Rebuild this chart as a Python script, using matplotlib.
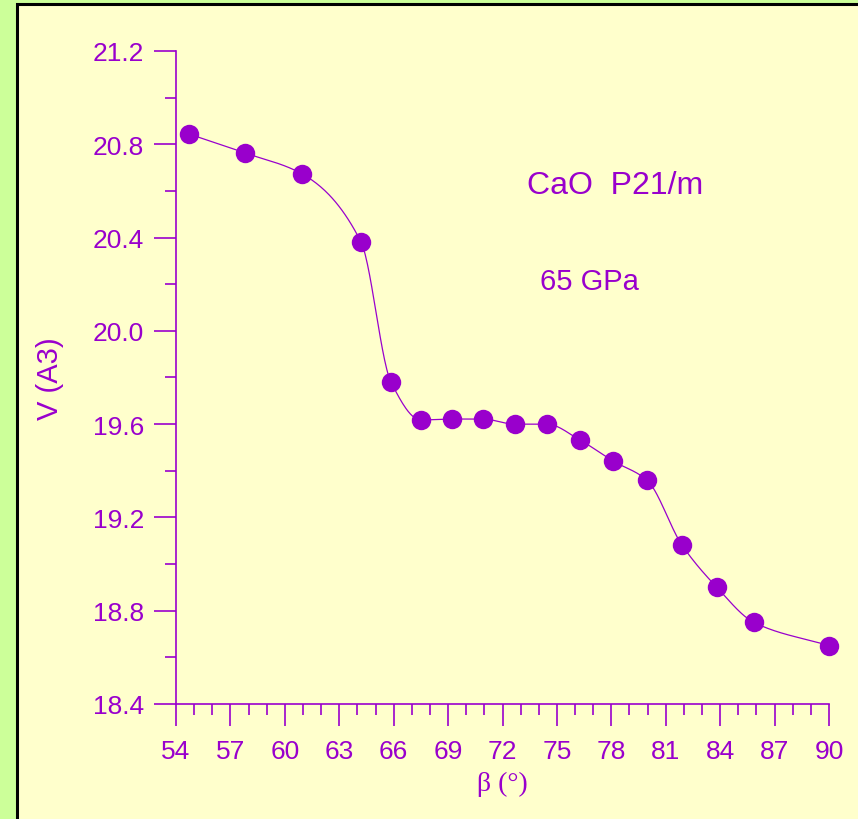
import numpy as np
import matplotlib.pyplot as plt
from matplotlib.patches import Rectangle
from matplotlib.ticker import MultipleLocator, FormatStrFormatter

# Cell volume vs monoclinic angle, CaO P21/m at 65 GPa
beta = [54.72, 57.80, 60.95, 64.20, 65.85, 67.50, 69.20, 70.90, 72.70,
        74.45, 76.27, 78.09, 79.96, 81.89, 83.82, 85.86, 90.00]
volume = [20.844, 20.763, 20.673, 20.381, 19.781, 19.618, 19.622, 19.622,
          19.600, 19.600, 19.532, 19.442, 19.360, 19.082, 18.900, 18.750, 18.650]

purple = '#9900cc'


def pchip(x, y, xs):
    # monotone cubic (Fritsch-Carlson) for the smooth connecting line
    x = np.asarray(x, float)
    y = np.asarray(y, float)
    h = np.diff(x)
    d = np.diff(y) / h
    m = np.zeros_like(y)
    for k in range(1, len(x) - 1):
        if d[k - 1] * d[k] > 0:
            w1 = 2 * h[k] + h[k - 1]
            w2 = h[k] + 2 * h[k - 1]
            m[k] = (w1 + w2) / (w1 / d[k - 1] + w2 / d[k])
    m[0] = d[0]
    m[-1] = d[-1]
    idx = np.clip(np.searchsorted(x, xs) - 1, 0, len(x) - 2)
    t = (xs - x[idx]) / h[idx]
    h00 = 2 * t**3 - 3 * t**2 + 1
    h10 = t**3 - 2 * t**2 + t
    h01 = -2 * t**3 + 3 * t**2
    h11 = t**3 - t**2
    return (h00 * y[idx] + h10 * h[idx] * m[idx]
            + h01 * y[idx + 1] + h11 * h[idx] * m[idx + 1])


fig = plt.figure(figsize=(8.58, 8.20), dpi=100)
fig.patch.set_facecolor('#ccff99')
fig.patches.append(Rectangle((17 / 858, -0.1), 1.0, 1.1 - 5 / 820,
                             transform=fig.transFigure, facecolor='#ffffcc',
                             edgecolor='black', linewidth=2.2, zorder=-10))

ax = fig.add_axes([176 / 858, 1 - 705 / 820, 653 / 858, 653 / 820])
ax.set_zorder(5)
ax.set_facecolor('none')

xs = np.linspace(beta[0], beta[-1], 600)
ax.plot(xs, pchip(beta, volume, xs), color=purple, lw=0.9, zorder=2)
ax.plot(beta, volume, 'o', color=purple, ms=14, mec='none', zorder=3,
        clip_on=False)

ax.set_xlim(54, 90)
ax.set_ylim(18.4, 21.2)
ax.xaxis.set_major_locator(MultipleLocator(3))
ax.xaxis.set_minor_locator(MultipleLocator(1))
ax.yaxis.set_major_locator(MultipleLocator(0.4))
ax.yaxis.set_minor_locator(MultipleLocator(0.2))
ax.yaxis.set_major_formatter(FormatStrFormatter('%.1f'))

for side in ['top', 'right']:
    ax.spines[side].set_visible(False)
for side in ['left', 'bottom']:
    ax.spines[side].set_color(purple)
    ax.spines[side].set_linewidth(1.2)

ax.tick_params(which='major', direction='out', length=16, width=1.2,
               color=purple, labelcolor=purple, labelsize=19, pad=7)
ax.tick_params(which='minor', direction='out', length=8, width=1.2,
               color=purple)
ax.tick_params(axis='x', which='major', pad=9)
for lbl in ax.get_xticklabels() + ax.get_yticklabels():
    lbl.set_family('Liberation Sans')

ax.set_xlabel('β (°)', family='Liberation Serif', fontsize=20,
              color=purple, labelpad=6)
ax.set_ylabel('V (A3)', family='Liberation Sans', fontsize=21,
              color=purple, labelpad=21)

ax.text(78.2, 20.625, 'CaO  P21/m', family='Liberation Sans', fontsize=23,
        color=purple, ha='center', va='center')
ax.text(76.8, 20.214, '65 GPa', family='Liberation Sans', fontsize=21,
        color=purple, ha='center', va='center')

fig.savefig('out.png', dpi=100, facecolor=fig.get_facecolor())
